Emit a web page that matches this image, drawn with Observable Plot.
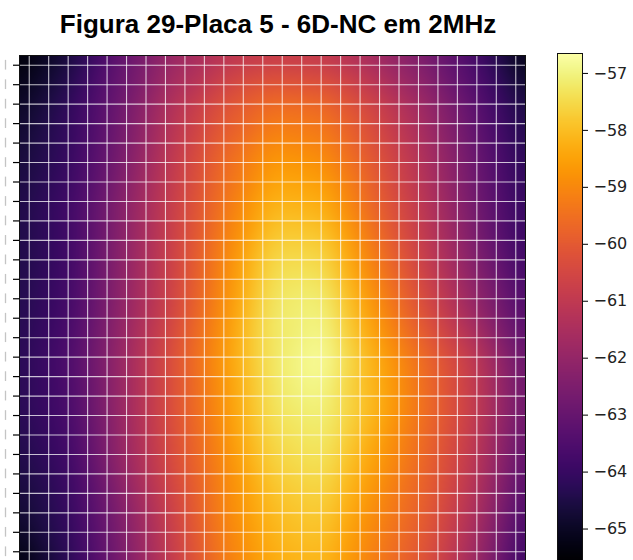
<!DOCTYPE html>
<html>
<head>
<meta charset="utf-8">
<script src="https://cdn.jsdelivr.net/npm/d3@7"></script>
<script src="https://cdn.jsdelivr.net/npm/@observablehq/plot@0.6"></script>
<style>
  html, body { margin: 0; padding: 0; background: #fff; overflow: hidden; }
  #wrap { position: relative; width: 633px; height: 560px; }
  #title {
    position: absolute; left: 6px; top: 11px; width: 544px;
    text-align: center; font: bold 26px "Liberation Sans", Arial, sans-serif;
    line-height: 26px; color: #000; white-space: nowrap;
  }
  #main { position: absolute; left: 0; top: 0; }
  #bar { position: absolute; left: 540px; top: 0; }
</style>
</head>
<body>
<div id="wrap">
  <div id="main"></div>
  <div id="bar"></div>
  <div id="title">Figura 29-Placa 5 - 6D-NC em 2MHz</div>
</div>
<script>
// Sample positions (in grid-cell units, 26 x 26 cells) of the measured field
const colPositions = [-0.5, 2.1, 4.7, 7.3, 9.9, 12.5, 15.1, 17.7, 20.3, 22.9, 25.5];
const rowPositions = [-0.5, 2.1, 4.7, 7.3, 9.9, 12.5, 15.1, 17.7, 20.3, 22.9, 25.5];

// Signal level (dB) at each sample, one list per row from top to bottom
const signalRows = [
  [-65.5, -64.6, -63.1, -61.9, -61.2, -60.9, -61.0, -61.7, -62.6, -63.7, -65.3],
  [-65.0, -64.1, -62.8, -61.3, -60.2, -59.5, -59.6, -60.6, -61.8, -63.2, -64.6],
  [-64.7, -64.0, -62.6, -61.0, -59.7, -58.7, -58.9, -60.1, -61.4, -62.9, -64.3],
  [-64.5, -63.8, -62.3, -60.8, -59.4, -58.1, -58.2, -59.7, -61.1, -62.7, -64.1],
  [-64.5, -63.8, -62.2, -60.7, -59.1, -57.5, -57.5, -59.2, -60.8, -62.4, -63.9],
  [-64.4, -63.7, -62.1, -60.6, -58.9, -57.2, -57.0, -58.7, -60.3, -61.9, -63.5],
  [-64.3, -63.5, -61.9, -60.3, -58.7, -57.2, -56.7, -58.2, -59.6, -61.0, -63.0],
  [-64.3, -63.6, -61.9, -60.3, -58.8, -57.3, -57.0, -58.1, -59.5, -60.9, -62.9],
  [-64.5, -63.8, -62.0, -60.4, -59.0, -57.6, -57.3, -58.5, -59.7, -61.1, -63.2],
  [-64.8, -64.0, -62.4, -60.7, -59.1, -58.0, -57.7, -58.9, -59.9, -61.4, -63.6],
  [-65.4, -64.2, -62.6, -60.9, -59.3, -58.3, -58.1, -59.2, -60.2, -61.8, -64.0]
];

// Colour range and colour-bar ticks
const colorDomain = [-65.57, -56.65];
const barTicks = [-65, -64, -63, -62, -61, -60, -59, -58, -57];
const gridTicks = d3.range(26);

const samples = rowPositions.flatMap((y, i) =>
  colPositions.map((x, j) => ({x, y, v: signalRows[i][j]}))
);

const color = {type: "linear", scheme: "inferno", domain: colorDomain};

const main = Plot.plot({
  width: 527,
  height: 562,
  marginLeft: 19,
  marginRight: 2,
  marginTop: 55,
  marginBottom: 1,
  x: {domain: [-0.5, 25.5], axis: null},
  y: {domain: [-0.5, 25.5], reverse: true, axis: null},
  color,
  marks: [
    Plot.raster(samples, {
      x: "x", y: "y", fill: "v",
      x1: -0.5, x2: 25.5, y1: -0.5, y2: 25.5,
      interpolate: "barycentric",
      blur: 10
    }),
    Plot.ruleX(gridTicks, {stroke: "#fff", strokeOpacity: 0.75, strokeWidth: 1.1}),
    Plot.ruleY(gridTicks, {stroke: "#fff", strokeOpacity: 0.75, strokeWidth: 1.1}),
    Plot.frame({stroke: "#111", strokeWidth: 1}),
    Plot.axisY(gridTicks, {
      anchor: "left", tickSize: 6, tickFormat: () => "", label: null,
      stroke: "#000", strokeWidth: 1.2
    }),
    // faint remnants of the row labels at the page's left edge
    Plot.ruleX(gridTicks, {
      x: () => -0.5, y1: d => d - 0.25, y2: d => d + 0.25,
      dx: -14, stroke: "#c4c4c4", strokeWidth: 1.3
    })
  ]
});
document.getElementById("main").appendChild(main);

const bar = Plot.plot({
  width: 93,
  height: 562,
  marginLeft: 17,
  marginRight: 51,
  marginTop: 53,
  marginBottom: 1,
  x: {domain: [0, 1], axis: null},
  y: {domain: colorDomain, axis: null},
  color,
  marks: [
    Plot.raster({
      x1: 0, x2: 1, y1: colorDomain[0], y2: colorDomain[1],
      fill: (x, y) => y
    }),
    Plot.frame({stroke: "#111", strokeWidth: 1}),
    Plot.axisY(barTicks, {
      anchor: "right", tickSize: 5, tickPadding: 6, label: null,
      tickFormat: d => "\u2212" + Math.abs(d),
      fontSize: 16, fontFamily: "DejaVu Sans", fill: "#222",
      stroke: "#000", strokeWidth: 1
    })
  ]
});
document.getElementById("bar").appendChild(bar);
</script>
</body>
</html>
